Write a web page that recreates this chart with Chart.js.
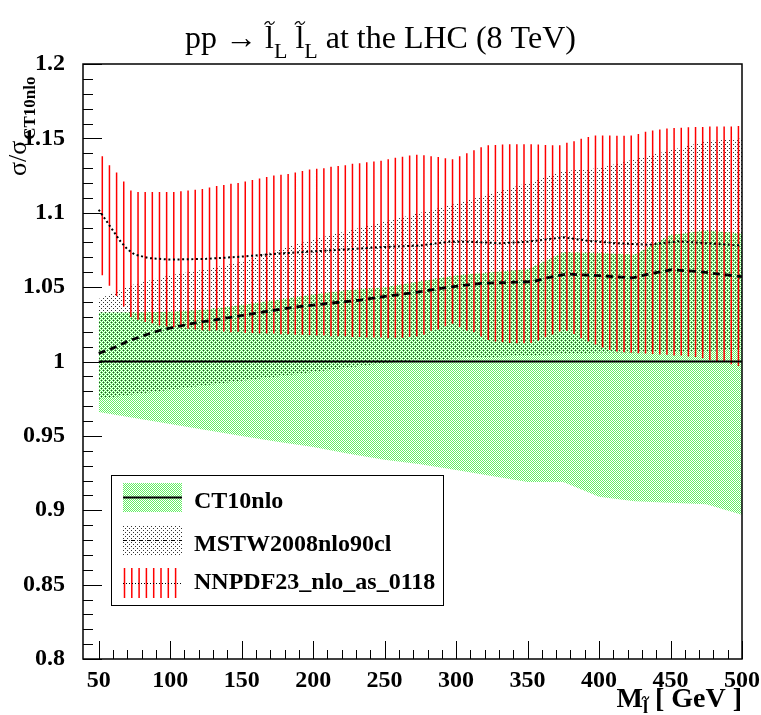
<!DOCTYPE html>
<html>
<head>
<meta charset="utf-8">
<script src="https://cdn.jsdelivr.net/npm/chart.js@4.4.1/dist/chart.umd.min.js"></script>
<style>
  html, body { margin: 0; padding: 0; background: #fff; }
  #c { display: block; }
</style>
</head>
<body>
<canvas id="c" width="761" height="715"></canvas>
<script>
// NNPDF histogram: 90 bins of 5 GeV between 50 and 500, drawn at bin centres
const nBins = 90, binLo = 50, binHi = 500;
const nnpdfX = Array.from({ length: nBins }, (_, i) => binLo + (i + 0.5) * (binHi - binLo) / nBins);
const nnpdfHi = [
  1.138, 1.132, 1.127, 1.121, 1.115, 1.114, 1.114, 1.114, 1.114, 1.114,
  1.114, 1.1145, 1.115, 1.1155, 1.116, 1.117, 1.118, 1.1186, 1.1195, 1.120,
  1.121, 1.122, 1.123, 1.124, 1.125, 1.1255, 1.126, 1.127, 1.128, 1.129,
  1.1295, 1.130, 1.131, 1.1315, 1.132, 1.133, 1.1333, 1.134, 1.1344, 1.135,
  1.136, 1.137, 1.1376, 1.1385, 1.139, 1.1387, 1.138, 1.1374, 1.1367, 1.136,
  1.138, 1.140, 1.142, 1.144, 1.1454, 1.1456, 1.1458, 1.146, 1.146, 1.146,
  1.146, 1.1458, 1.1456, 1.1454, 1.1454, 1.147, 1.148, 1.1497, 1.151, 1.152,
  1.152, 1.152, 1.1517, 1.1517, 1.152, 1.153, 1.1544, 1.1553, 1.156, 1.1567,
  1.157, 1.1572, 1.1575, 1.1577, 1.1577, 1.158, 1.158, 1.158, 1.158, 1.1584
];
const nnpdfLo = [
  1.058, 1.051, 1.044, 1.037, 1.030, 1.028, 1.0266, 1.0257, 1.0242, 1.0235,
  1.023, 1.0228, 1.022, 1.0215, 1.021, 1.0206, 1.021, 1.0201, 1.0197, 1.020,
  1.0192, 1.0192, 1.0188, 1.0188, 1.0188, 1.0183, 1.0183, 1.0179, 1.0179, 1.0177,
  1.0174, 1.0174, 1.017, 1.017, 1.017, 1.0165, 1.0165, 1.0161, 1.0161, 1.0161,
  1.0157, 1.016, 1.016, 1.0165, 1.0168, 1.0179, 1.0206, 1.0215, 1.0237, 1.0253,
  1.023, 1.0208, 1.0197, 1.0168, 1.0145, 1.0134, 1.013, 1.0125, 1.0123, 1.0123,
  1.0125, 1.0141, 1.0163, 1.0181, 1.0201, 1.0206, 1.0185, 1.0157, 1.0134, 1.0114,
  1.0094, 1.0078, 1.0067, 1.0063, 1.0058, 1.0056, 1.0054, 1.0051, 1.0047, 1.0045,
  1.004, 1.004, 1.0034, 1.003, 1.0022, 1.0009, 1.000, 0.9996, 0.9982, 0.997
];
const nnpdfMidX = [50, 55, 60, 65, 70, 75, 85, 100, 125, 150, 175, 200, 225, 250, 275, 295, 310, 330, 350, 375, 392, 412, 435, 455, 475, 500];
const nnpdfMid = [1.102, 1.095, 1.088, 1.081, 1.0755, 1.072, 1.0695, 1.0685, 1.069, 1.0705, 1.0725, 1.074, 1.0755, 1.077, 1.078, 1.0805, 1.0805, 1.0795, 1.0805, 1.0835, 1.0812, 1.0795, 1.0785, 1.0808, 1.0795, 1.078];

// CT10 and MSTW uncertainty bands
const bandX = [50, 75, 100, 125, 150, 175, 200, 225, 250, 275, 300, 325, 350, 375, 400, 425, 450, 475, 500];
const ct10Hi = [1.033, 1.033, 1.0335, 1.035, 1.038, 1.0415, 1.045, 1.048, 1.050, 1.054, 1.058, 1.060, 1.062, 1.0734, 1.073, 1.072, 1.085, 1.088, 1.086];
const ct10Lo = [0.966, 0.962, 0.958, 0.954, 0.950, 0.946, 0.9425, 0.938, 0.934, 0.931, 0.927, 0.923, 0.919, 0.919, 0.909, 0.906, 0.905, 0.904, 0.897];
const mstwHi = [1.042, 1.052, 1.058, 1.062, 1.067, 1.075, 1.082, 1.088, 1.094, 1.100, 1.106, 1.113, 1.120, 1.128, 1.130, 1.136, 1.142, 1.148, 1.150];
const mstwLo = [0.975, 0.978, 0.981, 0.984, 0.987, 0.990, 0.993, 0.996, 0.999, 1.001, 1.002, 1.003, 1.004, 1.005, 1.006, 1.006, 1.007, 1.007, 1.008];

const mstwMidX = [50, 60, 70, 80, 93, 116, 140, 163, 186, 210, 233, 256, 272, 295, 318, 342, 354, 365, 377, 400, 423, 435, 451, 470, 500];
const mstwMid = [1.0055, 1.009, 1.0135, 1.017, 1.021, 1.0257, 1.0293, 1.033, 1.0364, 1.039, 1.0413, 1.0445, 1.0465, 1.050, 1.0526, 1.0533, 1.0537, 1.0566, 1.0588, 1.0577, 1.0562, 1.0588, 1.0617, 1.0604, 1.057];

const ct10MidX = [50, 500];
const ct10Mid = [1, 1];

const xTicks = [50, 100, 150, 200, 250, 300, 350, 400, 450, 500];
const yTicks = [0.8, 0.85, 0.9, 0.95, 1, 1.05, 1.1, 1.15, 1.2];

const serif = '"Liberation Serif", "Times New Roman", serif';
const canvas = document.getElementById('c');
const ctx = canvas.getContext('2d');

// fill patterns like the ROOT ones
function makePattern(w, h, dots) {
  const pc = document.createElement('canvas');
  pc.width = w; pc.height = h;
  const g = pc.getContext('2d');
  dots.forEach(([x, y, col]) => { g.fillStyle = col; g.fillRect(x, y, 1, 1); });
  return ctx.createPattern(pc, 'repeat');
}
const green = 'rgb(100,240,100)';
const greenFill = makePattern(2, 2, [[0, 0, green], [1, 1, green]]);
// dots sit on the pixels the green checker leaves empty
const grayFill = makePattern(4, 4, [[1, 0, '#333'], [3, 2, '#333']]);

const xy = (xs, ys) => xs.map((x, i) => ({ x: x, y: ys[i] }));

// error bars as one broken line: lo, hi, gap
const nnpdfBars = [];
nnpdfX.forEach((x, i) => {
  nnpdfBars.push({ x: x, y: nnpdfLo[i] }, { x: x, y: nnpdfHi[i] }, { x: x, y: null });
});

const line = { pointRadius: 0, tension: 0, fill: false };

const data = {
  datasets: [
    { ...line, data: xy(bandX, ct10Lo), borderWidth: 0, borderColor: 'transparent', order: 5 },
    { ...line, data: xy(bandX, ct10Hi), borderWidth: 0, borderColor: 'transparent', order: 5,
      fill: { target: 0 }, backgroundColor: greenFill },
    { ...line, data: xy(bandX, mstwLo), borderWidth: 0, borderColor: 'transparent', order: 4 },
    { ...line, data: xy(bandX, mstwHi), borderWidth: 0, borderColor: 'transparent', order: 4,
      fill: { target: 2 }, backgroundColor: grayFill },
    { ...line, data: nnpdfBars, borderColor: 'rgb(255,0,0)', borderWidth: 1.5, spanGaps: false, order: 3 },
    { ...line, data: xy(nnpdfMidX, nnpdfMid), borderColor: '#000', borderWidth: 2, borderDash: [2, 2.6], order: 2 },
    { ...line, data: xy(mstwMidX, mstwMid), borderColor: '#000', borderWidth: 2.8, borderDash: [7, 5], order: 1 },
    { ...line, data: xy(ct10MidX, ct10Mid), borderColor: '#000', borderWidth: 2.2, order: 0 }
  ]
};

function drawTilde(g, cx, cy, w) {
  g.save();
  g.beginPath();
  g.lineWidth = 1.2;
  g.strokeStyle = '#000';
  g.moveTo(cx - w / 2, cy + 1.5);
  g.bezierCurveTo(cx - w / 4, cy - 3, cx, cy - 1, cx, cy);
  g.bezierCurveTo(cx, cy + 1, cx + w / 4, cy + 3, cx + w / 2, cy - 1.5);
  g.stroke();
  g.restore();
}

// frame, inward ticks, titles and legend in the ROOT style
const rootLook = {
  id: 'rootLook',
  beforeDraw(chart) {
    const g = chart.ctx;
    g.save();
    g.fillStyle = '#fff';
    g.fillRect(0, 0, chart.width, chart.height);
    g.restore();
  },
  afterDraw(chart) {
    const g = chart.ctx;
    const a = chart.chartArea;
    const xs = chart.scales.x, ys = chart.scales.y;
    g.save();

    // ticks
    g.strokeStyle = '#000';
    g.lineWidth = 1;
    g.beginPath();
    for (let v = 50; v <= 500; v += 10) {
      const px = Math.round(xs.getPixelForValue(v)) + 0.5;
      const len = v % 50 === 0 ? 18 : 9;
      g.moveTo(px, a.bottom);
      g.lineTo(px, a.bottom - len);
    }
    for (let k = 80; k <= 120; k += 1) {
      const py = Math.round(ys.getPixelForValue(k / 100)) + 0.5;
      const len = k % 5 === 0 ? 19 : 10;
      g.moveTo(a.left, py);
      g.lineTo(a.left + len, py);
    }
    g.stroke();

    // frame
    g.lineWidth = 1.5;
    g.strokeRect(a.left, a.top, a.right - a.left, a.bottom - a.top);

    // main title
    g.fillStyle = '#000';
    g.textBaseline = 'alphabetic';
    const big = '32px ' + serif, sub = '22px ' + serif;
    const parts = [
      { t: 'pp \u2192 ', f: big, dy: 0 },
      { t: 'l', f: big, dy: 0, tilde: true },
      { t: 'L', f: sub, dy: 10 },
      { t: ' ', f: big, dy: 0 },
      { t: 'l', f: big, dy: 0, tilde: true },
      { t: 'L', f: sub, dy: 10 },
      { t: ' at the LHC (8 TeV)', f: big, dy: 0 }
    ];
    let total = 0;
    parts.forEach(p => { g.font = p.f; p.w = g.measureText(p.t).width; total += p.w; });
    let x = chart.width / 2 - total / 2;
    const base = 48;
    parts.forEach(p => {
      g.font = p.f;
      g.fillText(p.t, x, base + p.dy);
      if (p.tilde) drawTilde(g, x + p.w / 2, base - 25, 10);
      x += p.w;
    });

    // x axis title
    g.font = 'bold 28px ' + serif;
    const wM = g.measureText('M').width;
    const wG = g.measureText(' [ GeV ]').width;
    g.font = 'bold 18px ' + serif;
    const wl = g.measureText('l').width;
    let tx = a.right - (wM + wl + wG);
    g.font = 'bold 28px ' + serif;
    g.fillText('M', tx, 707);
    tx += wM;
    g.font = 'bold 18px ' + serif;
    g.fillText('l', tx, 713);
    drawTilde(g, tx + wl / 2, 698, 7);
    tx += wl;
    g.font = 'bold 28px ' + serif;
    g.fillText(' [ GeV ]', tx, 707);

    // y axis title, rotated
    g.save();
    g.translate(26, 176);
    g.rotate(-Math.PI / 2);
    g.font = '26px ' + serif;
    g.fillText('\u03c3/\u03c3', 0, 0);
    const ws = g.measureText('\u03c3/\u03c3').width;
    g.font = 'bold 17px ' + serif;
    g.fillText('CT10nlo', ws + 1, 9);
    g.restore();

    // legend
    const L = { x: 111.5, y: 475.5, w: 332, h: 130 };
    g.fillStyle = '#fff';
    g.fillRect(L.x, L.y, L.w, L.h);
    g.lineWidth = 1;
    g.strokeStyle = '#000';
    g.strokeRect(L.x, L.y, L.w, L.h);

    const sx = 123, sw = 59;
    g.fillStyle = greenFill;
    g.fillRect(sx, 483, sw, 29);
    g.beginPath();
    g.lineWidth = 2;
    g.moveTo(sx, 497.5); g.lineTo(sx + sw, 497.5);
    g.stroke();

    g.fillStyle = grayFill;
    g.fillRect(sx, 525, sw, 30);
    g.beginPath();
    g.lineWidth = 1;
    g.setLineDash([4, 4]);
    g.moveTo(sx, 540.5); g.lineTo(sx + sw, 540.5);
    g.stroke();

    g.setLineDash([]);
    g.strokeStyle = 'rgb(255,0,0)';
    g.lineWidth = 1.5;
    g.beginPath();
    for (let k = 0; k < 8; k++) {
      const lx = sx + 1.5 + k * 7.3;
      g.moveTo(lx, 568); g.lineTo(lx, 598);
    }
    g.stroke();
    g.strokeStyle = '#000';
    g.lineWidth = 1;
    g.setLineDash([1, 2]);
    g.beginPath();
    g.moveTo(sx, 583.5); g.lineTo(sx + sw, 583.5);
    g.stroke();
    g.setLineDash([]);

    g.fillStyle = '#000';
    g.font = 'bold 24px ' + serif;
    g.fillText('CT10nlo', 194, 508);
    g.fillText('MSTW2008nlo90cl', 194, 551);
    g.fillText('NNPDF23_nlo_as_0118', 194, 589);

    g.restore();
  }
};

const tickFont = { family: serif, size: 24, weight: 'bold' };

new Chart(canvas, {
  type: 'line',
  data: data,
  options: {
    responsive: false,
    animation: false,
    devicePixelRatio: 1,
    layout: { padding: { top: 64, right: 19, left: 0, bottom: 0 } },
    plugins: {
      legend: { display: false },
      tooltip: { enabled: false },
      title: { display: false }
    },
    scales: {
      x: {
        type: 'linear',
        min: 39,
        max: 500,
        grid: { display: false },
        border: { display: false },
        afterFit: s => { s.height = 56; },
        afterBuildTicks: s => { s.ticks = xTicks.map(v => ({ value: v })); },
        ticks: { color: '#000', font: tickFont, padding: -1, maxRotation: 0, autoSkip: false,
          callback: v => String(v) }
      },
      y: {
        type: 'linear',
        min: 0.8,
        max: 1.2,
        grid: { display: false },
        border: { display: false },
        afterFit: s => { s.width = 83; },
        afterBuildTicks: s => { s.ticks = yTicks.map(v => ({ value: v })); },
        ticks: { color: '#000', font: tickFont, padding: 10, autoSkip: false,
          callback: v => String(+v.toFixed(2)) }
      }
    }
  },
  plugins: [rootLook]
});
</script>
</body>
</html>
